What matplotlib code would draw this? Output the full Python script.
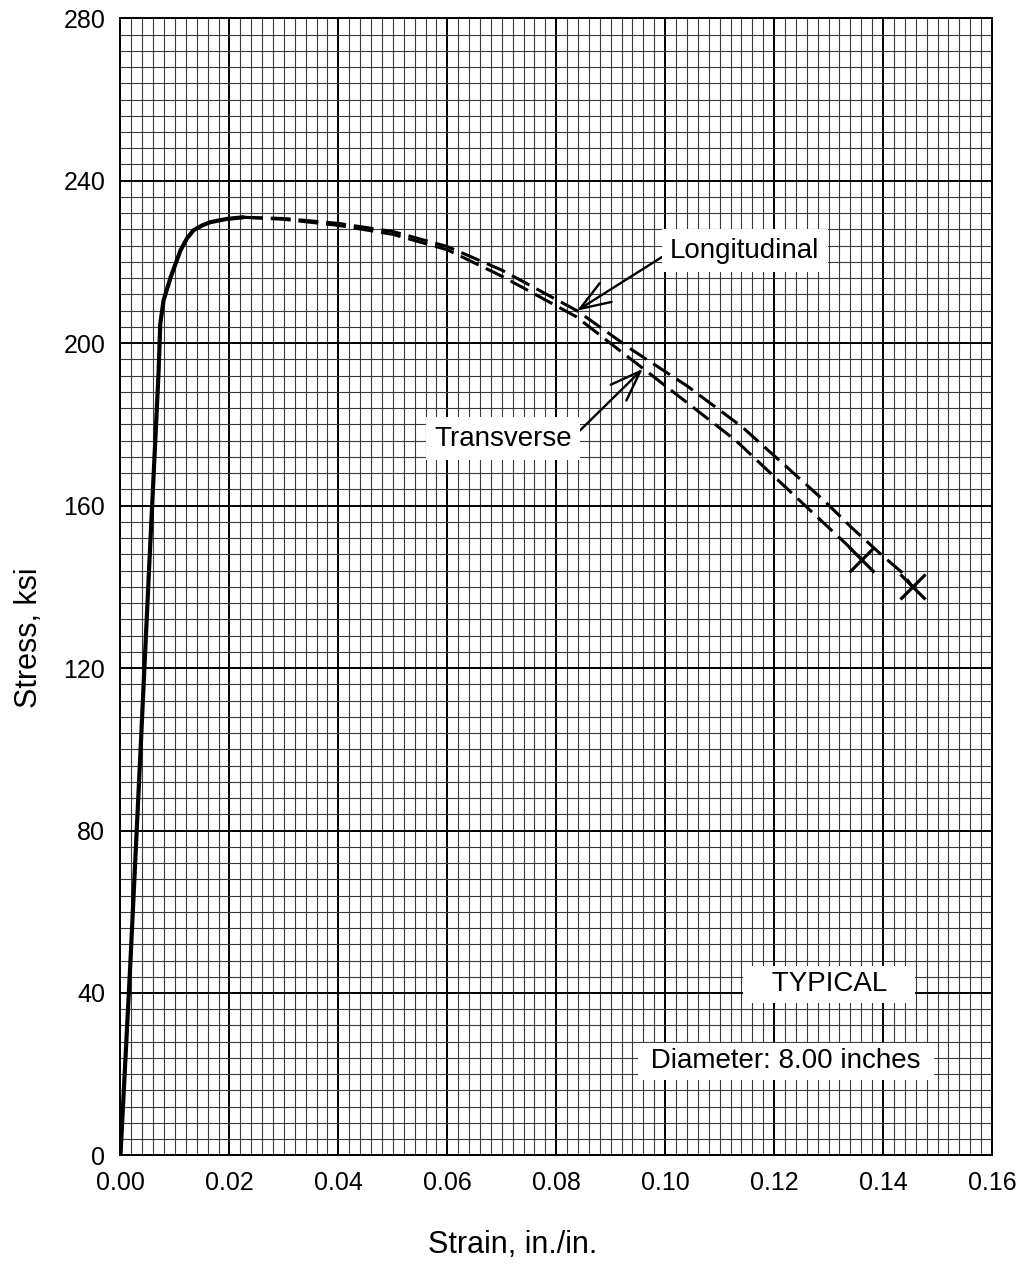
import matplotlib
matplotlib.use("Agg")
import matplotlib.pyplot as plt
from matplotlib.ticker import MultipleLocator

plt.rcParams['font.family'] = ['Liberation Sans', 'DejaVu Sans']

# elastic + knee region, shared by both directions (solid)
solid_strain = [0.0, 0.0018, 0.0035, 0.0052, 0.0070, 0.0073, 0.0079, 0.0092,
                0.0110, 0.0122, 0.0134, 0.0150, 0.0165, 0.0195, 0.0225]
solid_stress = [0, 47, 94.6, 143, 193, 204.7, 210.5, 216.2, 222.8, 225.8,
                227.8, 229.0, 229.8, 230.6, 231.0]

# plastic region (dashed)
long_strain = [0.0225, 0.030, 0.040, 0.050, 0.060, 0.070, 0.0838, 0.0941,
               0.104, 0.1142, 0.1292, 0.1343, 0.1393, 0.1435, 0.1453]
long_stress = [231.0, 230.7, 229.5, 227.5, 223.8, 218.0, 208.0, 198.2,
               189.5, 179.3, 161.2, 154.5, 148.4, 143.5, 140.2]

trans_strain = [0.0225, 0.030, 0.040, 0.050, 0.060, 0.070, 0.0837, 0.0929,
                0.0962, 0.113, 0.128, 0.1332, 0.136]
trans_stress = [231.0, 230.5, 229.0, 226.8, 223.0, 216.5, 206.5, 196.9,
                193.5, 176.0, 157.1, 150.6, 146.9]

fig = plt.figure(figsize=(10.21, 12.70), dpi=100)
ax = fig.add_axes([0.118, 0.0902, 0.8536, 0.8954])

ax.set_xlim(0, 0.16)
ax.set_ylim(0, 280)
ax.xaxis.set_major_locator(MultipleLocator(0.02))
ax.xaxis.set_minor_locator(MultipleLocator(0.002))
ax.yaxis.set_major_locator(MultipleLocator(40))
ax.yaxis.set_minor_locator(MultipleLocator(4))
ax.grid(which='minor', color='#3a3a3a', lw=0.8)
ax.grid(which='major', color='black', lw=1.4)
ax.set_axisbelow(True)
for s in ax.spines.values():
    s.set_linewidth(1.4)

ax.xaxis.set_major_formatter(plt.FuncFormatter(lambda v, p: f"{v:.2f}"))
ax.yaxis.set_major_formatter(plt.FuncFormatter(lambda v, p: f"{v:.0f}"))
ax.tick_params(which='both', length=0)
ax.tick_params(axis='x', labelsize=18, pad=11)
ax.tick_params(axis='y', labelsize=18, pad=11)

ax.set_xlabel('Strain, in./in.', fontsize=22)
ax.set_ylabel('Stress, ksi', fontsize=22)
ax.xaxis.set_label_coords(0.450, -0.066)
ax.yaxis.set_label_coords(-0.088, 0.455)

ax.plot(solid_strain, solid_stress, color='black', lw=3.0, solid_capstyle='round')
ax.plot(long_strain, long_stress, color='black', lw=2.2, dashes=(6.5, 2.6))
ax.plot(trans_strain, trans_stress, color='black', lw=2.2, dashes=(6.5, 2.6))

ax.plot([long_strain[-1]], [long_stress[-1]], marker='x', ms=18, mew=2.3, color='black')
ax.plot([trans_strain[-1]], [trans_stress[-1]], marker='x', ms=18, mew=2.3, color='black')

box = dict(facecolor='white', edgecolor='none', boxstyle='square,pad=0.3')

ax.annotate('Longitudinal', xy=(0.0838, 208.0), xytext=(0.1146, 222.8),
            fontsize=20, ha='center', va='center', bbox=box,
            arrowprops=dict(arrowstyle='->,head_length=1.1,head_width=0.4', color='black',
                            lw=1.7, shrinkA=0, shrinkB=0, relpos=(0.0, 0.45)))
ax.annotate('Transverse', xy=(0.0959, 193.7), xytext=(0.0702, 176.5),
            fontsize=20, ha='center', va='center', bbox=box,
            arrowprops=dict(arrowstyle='->,head_length=1.1,head_width=0.4', color='black',
                            lw=1.7, shrinkA=0, shrinkB=0, relpos=(1.0, 0.5)))

ax.text(0.1301, 42.1, '   TYPICAL   ', fontsize=20, ha='center', va='center',
        bbox=dict(facecolor='white', edgecolor='none', boxstyle='square,pad=0.2'))
ax.text(0.1222, 23.2, ' Diameter: 8.00 inches ', fontsize=20, ha='center', va='center',
        bbox=dict(facecolor='white', edgecolor='none', boxstyle='square,pad=0.2'))

fig.savefig('out.png', dpi=100)
